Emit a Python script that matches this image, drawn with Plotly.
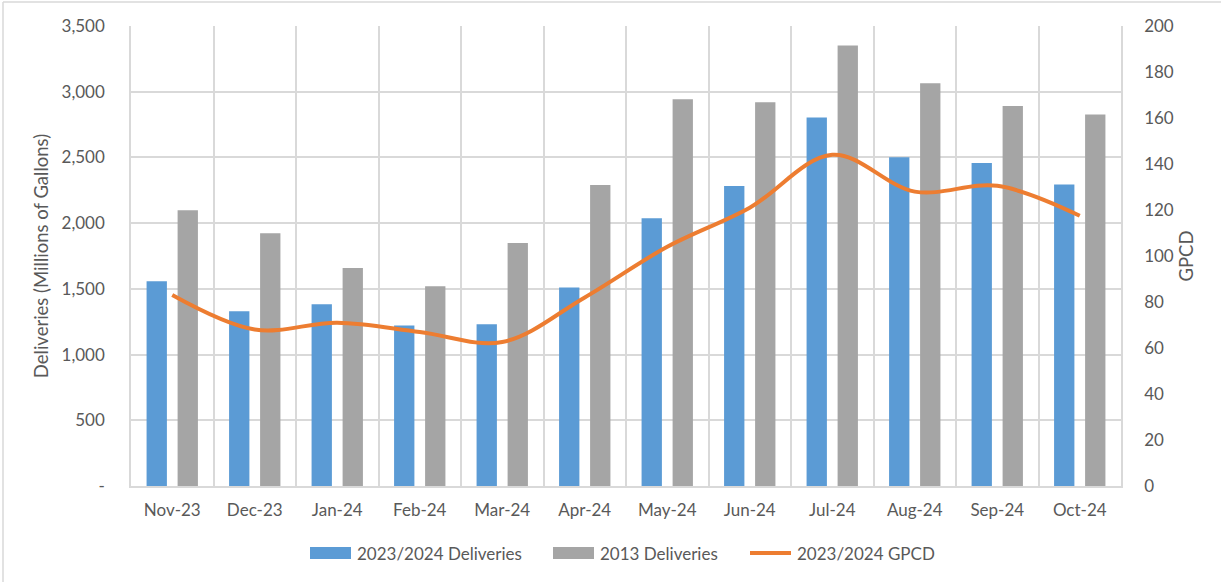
import plotly.graph_objects as go

months = ["Nov-23", "Dec-23", "Jan-24", "Feb-24", "Mar-24", "Apr-24",
          "May-24", "Jun-24", "Jul-24", "Aug-24", "Sep-24", "Oct-24"]
deliveries_2324 = [1558, 1329, 1383, 1221, 1231, 1510, 2037, 2283, 2804, 2501, 2458, 2294]
deliveries_2013 = [2098, 1923, 1659, 1520, 1849, 2291, 2943, 2920, 3351, 3065, 2892, 2826]
gpcd_2324 = [83, 68, 71, 67, 62.6, 82, 104, 121, 144, 128, 130.5, 117.5]

left_tickvals = [0, 500, 1000, 1500, 2000, 2500, 3000, 3500]
left_ticktext = ["-", "500", "1,000", "1,500", "2,000", "2,500", "3,000", "3,500"]

series_names = ["2023/2024 Deliveries", "2013 Deliveries", "2023/2024 GPCD"]

BLUE = "#5B9BD5"
GRAY = "#A5A5A5"
ORANGE = "#ED7D31"
TXT = "#595959"
GRID = "#D9D9D9"
FONT = "Lato, 'Open Sans', sans-serif"

fig = go.Figure()
fig.add_trace(go.Bar(x=months, y=deliveries_2324, name=series_names[0], showlegend=False,
                     marker=dict(color=BLUE, line=dict(width=0))))
fig.add_trace(go.Bar(x=months, y=deliveries_2013, name=series_names[1], showlegend=False,
                     marker=dict(color=GRAY, line=dict(width=0))))
fig.add_trace(go.Scatter(x=months, y=gpcd_2324, name=series_names[2], yaxis="y2", showlegend=False,
                         mode="lines", line=dict(color=ORANGE, width=4, shape="spline", smoothing=1.0)))

L, R, T, B = 131, 100, 26, 96
W, H = 1221, 582
pw = W - L - R
ph = H - T - B


def px_x(p):
    return (p - L) / pw


def px_y(p):
    return (H - B - p) / ph


fig.update_layout(
    width=W, height=H,
    margin=dict(l=L, r=R, t=T, b=B, autoexpand=False),
    paper_bgcolor="white", plot_bgcolor="white",
    barmode="group", bargap=0.248, bargroupgap=0.345,
    font=dict(family=FONT, size=17, color=TXT),
    showlegend=False,
    xaxis=dict(type="category", showgrid=True, gridcolor=GRID, gridwidth=1.5,
               tickson="boundaries", ticks="", showline=True, linecolor=GRID, linewidth=1.5,
               tickfont=dict(size=17, color=TXT), ticklabelstandoff=8, automargin=False),
    yaxis=dict(range=[0, 3500], tickvals=left_tickvals, ticktext=left_ticktext,
               showgrid=True, gridcolor=GRID, gridwidth=1.5, zeroline=False,
               showline=True, linecolor=GRID, linewidth=1.5, automargin=False,
               tickfont=dict(size=17, color=TXT), ticklabelstandoff=21,
               title=dict(text="Deliveries (Millions of Gallons)", font=dict(size=18.5, color=TXT), standoff=8)),
    yaxis2=dict(range=[0, 200], dtick=20, overlaying="y", side="right", showgrid=False,
                zeroline=False, showline=True, linecolor=GRID, linewidth=1.5, automargin=False,
                tickfont=dict(size=17, color=TXT), ticklabelstandoff=18,
                title=dict(text="GPCD", font=dict(size=18.5, color=TXT), standoff=7)),
)

# outer chart border (left and top edges visible)
fig.add_shape(type="line", xref="paper", yref="paper", x0=px_x(3), x1=px_x(3), y0=px_y(582), y1=px_y(2),
              line=dict(color=GRID, width=1.5))
fig.add_shape(type="line", xref="paper", yref="paper", x0=px_x(3), x1=px_x(1221), y0=px_y(2), y1=px_y(2),
              line=dict(color=GRID, width=1.5))

# legend (drawn to match the wide swatches)
ly = 553
fig.add_shape(type="rect", xref="paper", yref="paper", x0=px_x(310), x1=px_x(351),
              y0=px_y(ly + 6), y1=px_y(ly - 6), fillcolor=BLUE, line=dict(width=0))
fig.add_shape(type="rect", xref="paper", yref="paper", x0=px_x(553), x1=px_x(594),
              y0=px_y(ly + 6), y1=px_y(ly - 6), fillcolor=GRAY, line=dict(width=0))
fig.add_shape(type="line", xref="paper", yref="paper", x0=px_x(750), x1=px_x(791),
              y0=px_y(ly), y1=px_y(ly), line=dict(color=ORANGE, width=4))
for tx, name in zip([355, 598, 795], series_names):
    fig.add_annotation(xref="paper", yref="paper", x=px_x(tx), y=px_y(ly), text=name,
                       showarrow=False, xanchor="left", yanchor="middle",
                       font=dict(size=17, color=TXT, family=FONT))

fig.write_html("out.html", config={"displayModeBar": False},
               post_script="document.body.style.margin='0';document.body.style.overflow='hidden';")
